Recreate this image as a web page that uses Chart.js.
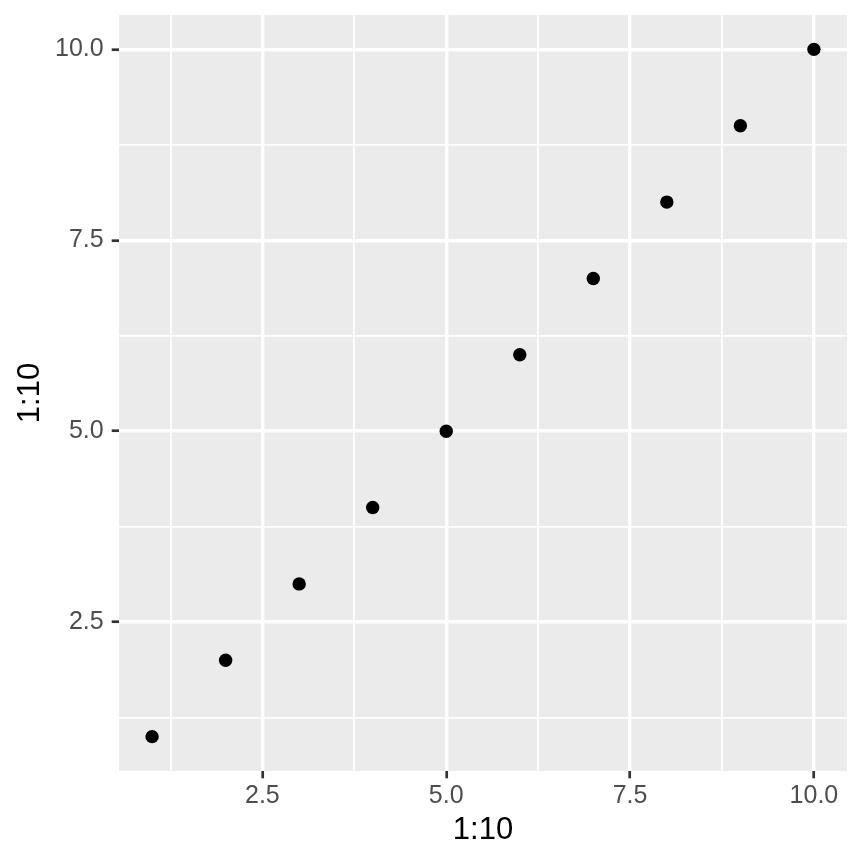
<!DOCTYPE html>
<html>
<head>
<meta charset="utf-8">
<script src="https://cdn.jsdelivr.net/npm/chart.js@4/dist/chart.umd.min.js"></script>
<style>
  html, body { margin: 0; padding: 0; background: #fff; }
  #wrap { width: 864px; height: 864px; }
</style>
</head>
<body>
<div id="wrap"><canvas id="plot" width="864" height="864"></canvas></div>
<script>
// data
var xValues = [1, 2, 3, 4, 5, 6, 7, 8, 9, 10];
var yValues = [1, 2, 3, 4, 5, 6, 7, 8, 9, 10];
var majorTicks = [2.5, 5, 7.5, 10];
var minorTicks = [1.25, 3.75, 6.25, 8.75];
var axisTitle = "1:10";

// ggplot style 5% expansion
function expand(vals) {
  var lo = Math.min.apply(null, vals), hi = Math.max.apply(null, vals);
  var pad = (hi - lo) * 0.05;
  return [lo - pad, hi + pad];
}
var xr = expand(xValues), yr = expand(yValues);

var allTicks = majorTicks.concat(minorTicks).sort(function (a, b) { return a - b; });
function isMajor(v) { return majorTicks.some(function (m) { return Math.abs(m - v) < 1e-9; }); }

var points = xValues.map(function (x, i) { return { x: x, y: yValues[i] }; });

var panelBg = {
  id: 'panelBg',
  beforeDraw: function (chart) {
    var a = chart.chartArea, c = chart.ctx;
    c.save();
    c.fillStyle = '#EBEBEB';
    c.fillRect(a.left, a.top, a.right - a.left, a.bottom - a.top);
    c.restore();
  }
};

function axisOpts(range, fitFn) {
  return {
    type: 'linear',
    min: range[0],
    max: range[1],
    afterBuildTicks: function (scale) {
      scale.ticks = allTicks.map(function (v) { return { value: v }; });
    },
    afterFit: fitFn,
    border: { display: false },
    grid: {
      color: '#FFFFFF',
      lineWidth: function (ctx) { return isMajor(ctx.tick.value) ? 3.4 : 1.8; },
      drawTicks: true,
      tickLength: 7.3,
      tickWidth: 2.7,
      tickColor: function (ctx) { return isMajor(ctx.tick.value) ? '#333333' : 'rgba(0,0,0,0)'; }
    },
    ticks: {
      autoSkip: false,
      maxRotation: 0,
      color: '#4D4D4D',
      font: { family: 'Liberation Sans', size: 25 },
      callback: function (v) { return isMajor(v) ? Number(v).toFixed(1) : ''; }
    },
    title: {
      display: true,
      text: axisTitle,
      color: '#000000',
      font: { family: 'Liberation Sans', size: 31 }
    }
  };
}

var xOpts = axisOpts(xr, function (scale) {
  scale.height = 93;
  scale.paddingLeft = 0;
  scale.paddingRight = 0;
});
xOpts.ticks.padding = 3;
xOpts.title.padding = { top: 0, bottom: 15 };

var yOpts = axisOpts(yr, function (scale) {
  scale.width = 119;
  scale.paddingTop = 0;
  scale.paddingBottom = 0;
});
yOpts.ticks.padding = 8;
yOpts.title.padding = { top: 12, bottom: 0 };

new Chart(document.getElementById('plot').getContext('2d'), {
  type: 'scatter',
  data: {
    datasets: [{
      data: points,
      backgroundColor: '#000000',
      borderWidth: 0,
      pointRadius: 6.7,
      pointHoverRadius: 6.7
    }]
  },
  options: {
    responsive: false,
    animation: false,
    devicePixelRatio: 1,
    layout: { padding: { top: 15, right: 17, bottom: 0, left: 0 } },
    plugins: { legend: { display: false }, tooltip: { enabled: false } },
    scales: { x: xOpts, y: yOpts }
  },
  plugins: [panelBg]
});
</script>
</body>
</html>
